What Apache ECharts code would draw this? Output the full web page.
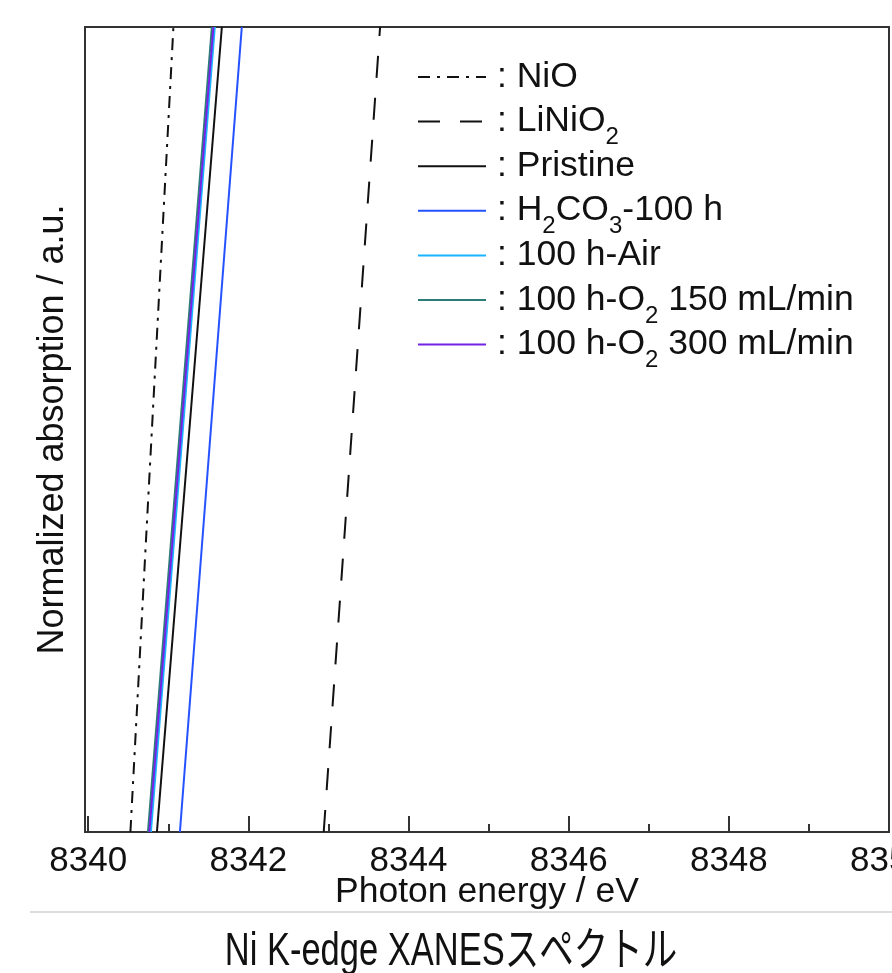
<!DOCTYPE html>
<html>
<head>
<meta charset="utf-8">
<script src="https://cdn.jsdelivr.net/npm/echarts@6/dist/echarts.min.js"></script>
<style>
  html, body { margin: 0; padding: 0; background: #fff; }
  #chart { width: 892px; height: 973px; }
</style>
</head>
<body>
<div id="chart"></div>
<script>
// normalized absorption levels at the bottom and top of the window
var levels = [0, 1];

// photon energy (eV) of each edge at those two levels
var nio = [8340.527, 8341.064];
var linio2 = [8342.941, 8343.645];
var pristine = [8340.858, 8341.669];
var h2co3 = [8341.145, 8341.918];
var air = [8340.783, 8341.581];
var o2_150 = [8340.746, 8341.544];
var o2_300 = [8340.764, 8341.563];

var majorTicks = [8340, 8342, 8344, 8346, 8348, 8350];
var minorTicks = [8341, 8343, 8345, 8347, 8349];

var font = '"Liberation Sans", Arial, "Noto Sans CJK JP", sans-serif';

function pairs(xs) {
    return xs.map(function (x, i) { return [x, levels[i]]; });
}

function line(name, xs, color, type) {
    return {
        name: name,
        type: 'line',
        data: pairs(xs),
        symbol: 'none',
        silent: true,
        lineStyle: { color: color, width: 2, type: type || 'solid' },
        itemStyle: { color: color }
    };
}

// every row ends with a sub token so all legend rows get the same height
var labels = {
    'NiO': '{m|: NiO}{sub| }',
    'LiNiO2': '{m|: LiNiO}{sub|2}',
    'Pristine': '{m|: Pristine}{sub| }',
    'H2CO3-100 h': '{m|: H}{sub|2}{m|CO}{sub|3}{m|-100 h}',
    '100 h-Air': '{m|: 100 h-Air}{sub| }',
    '100 h-O2 150 mL/min': '{m|: 100 h-O}{sub|2}{m| 150 mL/min}',
    '100 h-O2 300 mL/min': '{m|: 100 h-O}{sub|2}{m| 300 mL/min}'
};

var chart = echarts.init(document.getElementById('chart'));
chart.setOption({
    animation: false,
    backgroundColor: '#fff',
    textStyle: { fontFamily: font },
    graphic: [{
        type: 'line',
        shape: { x1: 30, y1: 912, x2: 892, y2: 912 },
        style: { stroke: '#dddddd', lineWidth: 2 }
    }, {
        type: 'text',
        x: 451,
        y: 952,
        scaleX: 0.75,
        style: {
            text: 'Ni K-edge XANESスペクトル',
            x: 0, y: 0,
            align: 'center',
            verticalAlign: 'middle',
            font: '46px ' + font,
            fill: '#111'
        }
    }],
    grid: {
        left: 85, right: 3, top: 27, bottom: 141,
        containLabel: false,
        outerBoundsMode: 'none',
        show: true, borderColor: '#333', borderWidth: 2
    },
    legend: {
        orient: 'vertical',
        left: 412,
        top: 54,
        itemWidth: 68,
        itemHeight: 14,
        itemGap: -1.4,
        selectedMode: false,
        itemStyle: { opacity: 0 },
        formatter: function (name) { return labels[name]; },
        textStyle: {
            fontFamily: font,
            color: '#111',
            padding: [0, 0, 0, 6],
            rich: {
                m: { fontSize: 35.5, lineHeight: 36, verticalAlign: 'top', color: '#111' },
                sub: { fontSize: 24, lineHeight: 12, padding: [22, 0, 0, 0], verticalAlign: 'top', color: '#111' }
            }
        }
    },
    xAxis: [{
        type: 'value',
        min: 8339.96,
        max: 8350,
        name: 'Photon energy / eV',
        nameLocation: 'middle',
        nameGap: 42,
        nameMoveOverlap: false,
        nameTextStyle: { fontFamily: font, fontSize: 35.5, color: '#111' },
        axisLine: { show: false },
        splitLine: { show: false },
        axisTick: {
            inside: true, length: 16, customValues: majorTicks,
            lineStyle: { color: '#333', width: 2 }
        },
        axisLabel: {
            customValues: majorTicks, margin: 12,
            formatter: function (v) { return String(v); },
            fontFamily: font, fontSize: 35, color: '#111'
        }
    }, {
        type: 'value',
        min: 8339.96,
        max: 8350,
        position: 'bottom',
        axisLine: { show: false },
        splitLine: { show: false },
        axisLabel: { show: false },
        axisTick: {
            inside: true, length: 8, customValues: minorTicks,
            lineStyle: { color: '#333', width: 2 }
        }
    }],
    yAxis: {
        type: 'value',
        min: 0,
        max: 1,
        name: 'Normalized absorption / a.u.',
        nameLocation: 'middle',
        nameGap: 14,
        nameTextStyle: { fontFamily: font, fontSize: 36, color: '#111' },
        axisLine: { show: false },
        axisTick: { show: false },
        axisLabel: { show: false },
        splitLine: { show: false }
    },
    series: [
        line('NiO', nio, '#111', [12, 7, 3, 7]),
        line('LiNiO2', linio2, '#111', [22, 20]),
        line('Pristine', pristine, '#111'),
        line('H2CO3-100 h', h2co3, '#2552ff'),
        line('100 h-Air', air, '#19b4ff'),
        line('100 h-O2 150 mL/min', o2_150, '#2b7d78'),
        line('100 h-O2 300 mL/min', o2_300, '#7322e6')
    ]
});
window.addEventListener('resize', function () { chart.resize(); });
</script>
</body>
</html>
